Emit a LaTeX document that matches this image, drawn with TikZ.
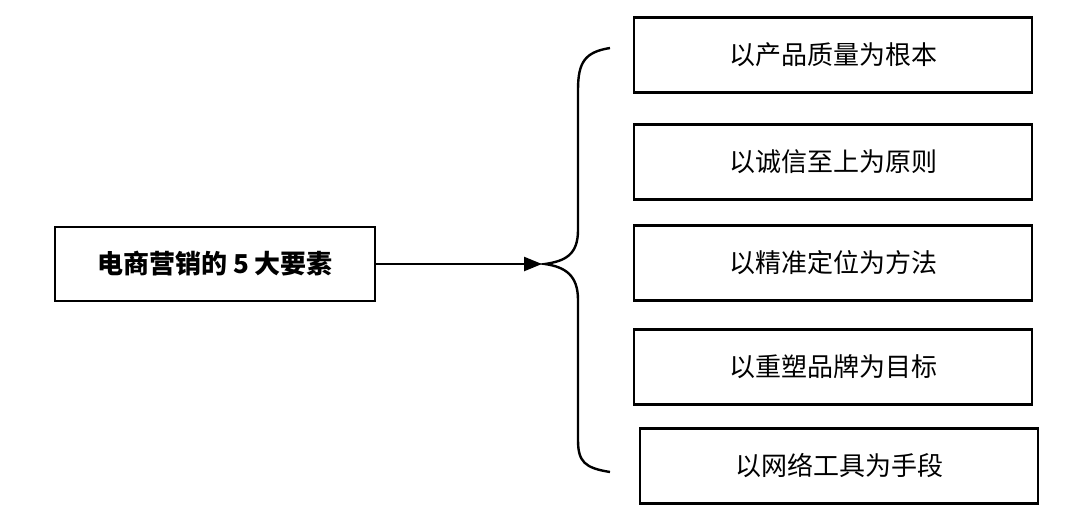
\documentclass[tikz,border=0pt]{standalone}
\usepackage{fontspec}
\newfontfamily\cjk{Noto Sans CJK SC}
\usetikzlibrary{arrows.meta}
\tikzset{
  box/.style={draw, line width=1.2pt, minimum width=199pt, minimum height=37.5pt, font=\cjk\fontsize{13}{15}\selectfont},
  lbox/.style={draw, line width=1.2pt, minimum width=160pt, minimum height=37pt, font=\cjk\bfseries\fontsize{13}{15}\selectfont}
}
\begin{document}
\begin{tikzpicture}[x=0.5pt, y=-0.5pt]
\useasboundingbox (0,0) rectangle (1080,520);
\node[lbox] (main) at (215,264) {电商营销的 5 大要素};
\coordinate (tip) at (542,264);
\draw[line width=1.2pt, -{Triangle[length=9pt,width=7pt]}] (main.east) -- (tip);
% brace
\draw[line width=1.2pt] (610,48) .. controls (585,52) and (578,62) .. (578,90)
  -- (578,230) .. controls (578,255) and (565,261) .. (545,264)
  .. controls (565,267) and (578,275) .. (578,300)
  -- (578,440) .. controls (578,462) and (585,468) .. (610,472);
\node[box] (q1) at (833,55) {以产品质量为根本};
\node[box] (q2) at (833,162) {以诚信至上为原则};
\node[box] (q3) at (833,263) {以精准定位为方法};
\node[box] (q4) at (833,367) {以重塑品牌为目标};
\node[box] (q5) at (839,466) {以网络工具为手段};
\end{tikzpicture}
\end{document}
